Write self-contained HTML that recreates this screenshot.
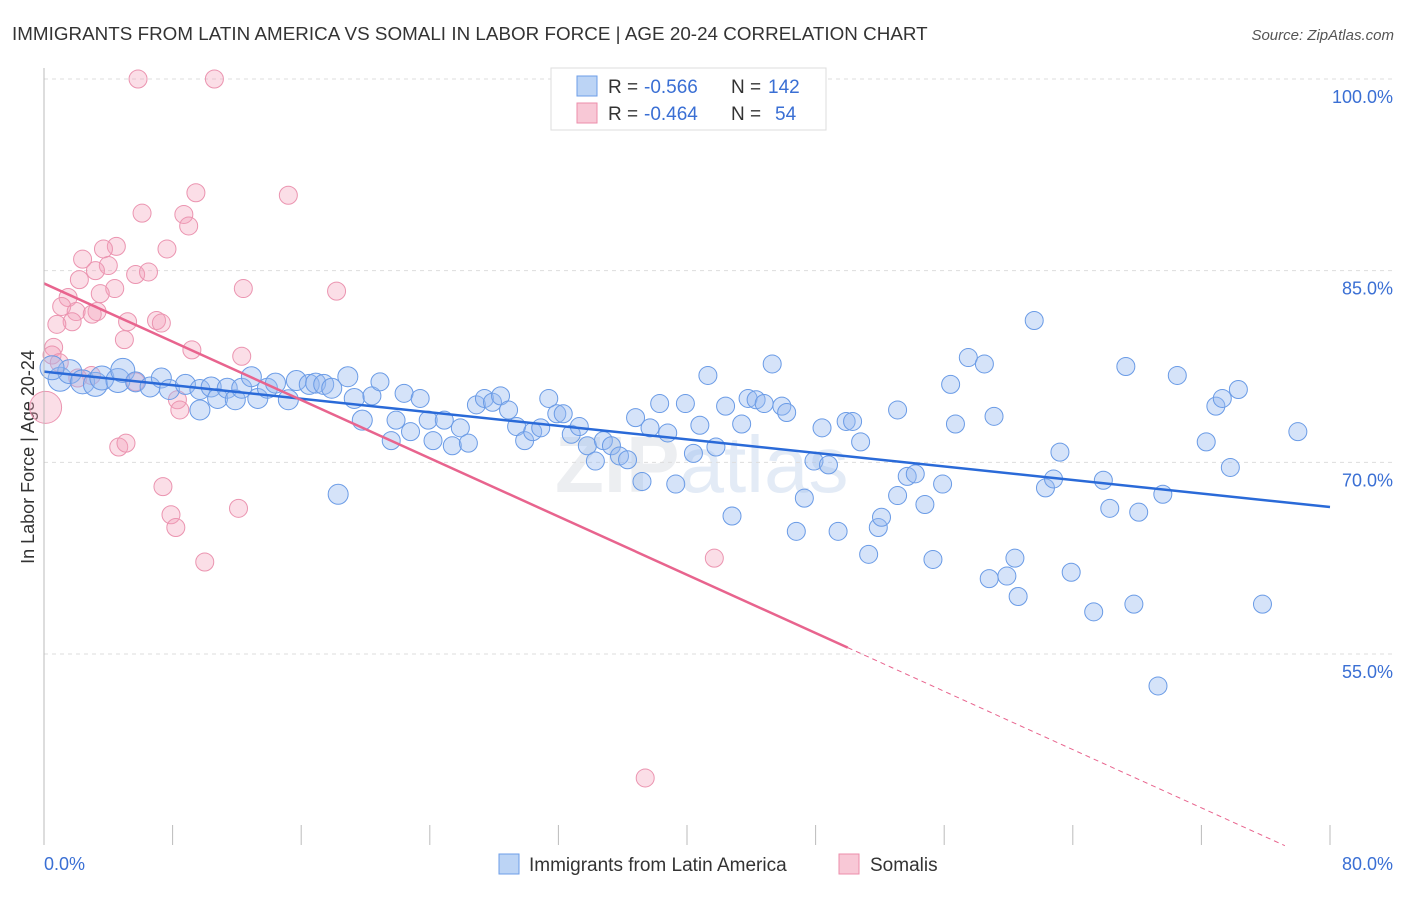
<!DOCTYPE html>
<html><head><meta charset="utf-8"><style>
body{margin:0;background:#fff;font-family:"Liberation Sans",sans-serif}
svg text{font-family:"Liberation Sans",sans-serif}
</style></head><body>
<svg id="c" width="1406" height="892">
<text x="12" y="40" font-size="18.8" fill="#333" letter-spacing="0.35" textLength="916" lengthAdjust="spacing">IMMIGRANTS FROM LATIN AMERICA VS SOMALI IN LABOR FORCE | AGE 20-24 CORRELATION CHART</text>
<text x="1394" y="40" font-size="15" fill="#555" text-anchor="end" font-style="italic">Source: ZipAtlas.com</text>
<text transform="translate(34,457) rotate(-90)" font-size="18" fill="#333" text-anchor="middle">In Labor Force | Age 20-24</text>
<text x="555" y="492" font-size="80" fill="#eceef1" font-weight="bold">ZIP<tspan fill="#e3ebf6" font-weight="normal">atlas</tspan></text>
<g id="grid"></g><g id="pts"></g><g id="lines"></g>
<line x1="44" y1="68" x2="44" y2="845" stroke="#bbb"/>
<g>
<rect x="551" y="68" width="275" height="62" fill="#fff" stroke="#ddd"/>
<rect x="577" y="76" width="20" height="20" fill="#bcd4f5" stroke="#6d9ee8"/>
<rect x="577" y="103" width="20" height="20" fill="#f8c8d6" stroke="#ec8eab"/>
<text x="608" y="93" font-size="19" fill="#333">R =</text>
<text x="644" y="93" font-size="19" fill="#3a6fd4">-0.566</text>
<text x="731" y="93" font-size="19" fill="#333">N =</text>
<text x="768" y="93" font-size="19" fill="#3a6fd4">142</text>
<text x="608" y="120" font-size="19" fill="#333">R =</text>
<text x="644" y="120" font-size="19" fill="#3a6fd4">-0.464</text>
<text x="731" y="120" font-size="19" fill="#333">N =</text>
<text x="775" y="120" font-size="19" fill="#3a6fd4">54</text>
</g>
<g>
<rect x="499" y="854" width="20" height="20" fill="#bcd4f5" stroke="#6d9ee8"/>
<text x="529" y="871" font-size="19" fill="#333">Immigrants from Latin America</text>
<rect x="839" y="854" width="20" height="20" fill="#f8c8d6" stroke="#ec8eab"/>
<text x="870" y="871" font-size="19" fill="#333">Somalis</text>
</g>
</svg>
<script>
const yTicks=[100,85,70,55];
const yTickLabels=["100.0%","85.0%","70.0%","55.0%"];
const xTickLabels=["0.0%","80.0%"];
const blueX=[1.0,1.6,0.5,2.4,3.2,3.6,4.6,4.9,5.7,6.6,7.3,7.8,8.8,9.7,9.7,10.4,10.8,11.4,11.9,12.3,12.9,13.3,13.9,14.4,15.2,15.7,16.5,16.9,17.4,17.9,18.9,19.3,19.8,20.4,20.9,21.6,21.9,22.4,22.8,23.4,23.9,24.2,24.9,25.4,25.9,26.4,26.9,27.4,27.9,28.4,28.9,29.4,29.9,30.4,30.9,31.4,31.9,32.3,32.8,33.3,33.8,34.3,34.8,35.3,35.8,36.3,36.8,37.2,37.7,38.3,38.8,39.3,39.9,40.4,40.8,41.3,41.8,42.4,42.8,43.4,43.8,44.3,44.8,45.3,45.9,46.2,46.8,47.3,47.9,48.4,48.8,49.4,49.9,50.3,50.8,51.3,51.9,52.1,53.1,53.1,53.7,54.2,54.8,55.3,55.9,56.4,56.7,57.5,58.5,58.8,59.1,59.9,60.4,60.6,61.6,62.3,62.8,63.2,63.9,65.3,65.9,66.3,67.3,67.8,68.1,69.3,69.6,70.5,72.3,72.9,73.3,73.8,74.3,75.8,78.0,18.3];
const blueY=[76.5,77.1,77.4,76.3,76.1,76.6,76.4,77.2,76.3,75.9,76.6,75.7,76.1,75.7,74.1,75.9,75.0,75.8,74.9,75.8,76.7,75.0,75.8,76.2,74.9,76.4,76.1,76.2,76.1,75.8,76.7,75.0,73.3,75.2,76.3,71.7,73.3,75.4,72.4,75.0,73.3,71.7,73.3,71.3,72.7,71.5,74.5,75.0,74.7,75.2,74.1,72.8,71.7,72.4,72.7,75.0,73.8,73.8,72.2,72.8,71.3,70.1,71.7,71.3,70.5,70.2,73.5,68.5,72.7,74.6,72.3,68.3,74.6,70.7,72.9,76.8,71.2,74.4,65.8,73.0,75.0,74.9,74.6,77.7,74.4,73.9,64.6,67.2,70.1,72.7,69.8,64.6,73.2,73.2,71.6,62.8,64.9,65.7,67.4,74.1,68.9,69.1,66.7,62.4,68.3,76.1,73.0,78.2,77.7,60.9,73.6,61.1,62.5,59.5,81.1,68.0,68.7,70.8,61.4,58.3,68.6,66.4,77.5,58.9,66.1,52.5,67.5,76.8,71.6,74.4,75.0,69.6,75.7,58.9,72.4,67.5];
const pinkX=[5.85,10.6,9.45,15.2,6.1,8.7,9.0,7.65,4.5,3.7,2.4,4.0,3.2,5.7,6.5,2.2,4.4,3.5,12.4,18.2,1.5,1.1,2.0,3.3,3.0,1.75,0.8,5.2,7.0,7.3,5.0,0.6,0.5,9.2,12.3,2.95,5.7,8.3,8.45,0.1,4.65,5.1,7.4,7.9,8.2,12.1,10.0,41.7,37.4,0.95,2.1];
const pinkY=[100,100,91.1,90.9,89.5,89.4,88.5,86.7,86.9,86.7,85.9,85.4,85.0,84.7,84.9,84.3,83.6,83.2,83.6,83.4,82.9,82.2,81.8,81.8,81.6,81.0,80.8,81.0,81.1,80.9,79.6,79.0,78.4,78.8,78.3,76.8,76.3,74.9,74.1,74.3,71.2,71.5,68.1,65.9,64.9,66.4,62.2,62.5,45.3,77.8,76.6];
const blueTrend=[77.1,66.5];
const pinkTrend=[84.0,55.5,50];
const X=v=>44+v*(1330-44)/80;
const Y=v=>79+(100-v)*(654-79)/45;
const NS="http://www.w3.org/2000/svg";
function mk(tag,attrs,parent){const e=document.createElementNS(NS,tag);for(const k in attrs)e.setAttribute(k,attrs[k]);parent.appendChild(e);return e;}
const grid=document.getElementById('grid');
yTicks.forEach((t,i)=>{
 const l=mk('line',{x1:44,x2:1393,y1:Y(t),y2:Y(t),stroke:'#ddd','stroke-dasharray':'4,4'},grid);
 
 
 const tx=mk('text',{x:1393,y:Y(t)+24,'font-size':18,fill:'#3a6fd4','text-anchor':'end'},grid);
 tx.textContent=yTickLabels[i];
 
 
});
for(let i=0;i<=10;i++){
 const l=mk('line',{x1:X(i*8),x2:X(i*8),y1:825,y2:845,stroke:'#bbb'},grid);
 
 
}
const xl0=mk('text',{x:44,y:870,'font-size':18,fill:'#3a6fd4'},grid);xl0.textContent=xTickLabels[0];


const xl1=mk('text',{x:1393,y:870,'font-size':18,fill:'#3a6fd4','text-anchor':'end'},grid);xl1.textContent=xTickLabels[1];


const pts=document.getElementById('pts');
pinkX.forEach((x,i)=>{
 const r=(x<0.3)?16:9;
 const c=mk('circle',{cx:X(x),cy:Y(pinkY[i]),r:r,fill:'rgba(244,160,186,0.35)',stroke:'#eb94b0','stroke-width':1},pts);
 
 
});
blueX.forEach((x,i)=>{
 const r=x<5?12:(x<20?10:9);
 const c=mk('circle',{cx:X(x),cy:Y(blueY[i]),r:r,fill:'rgba(150,185,240,0.4)',stroke:'#6a9be6','stroke-width':1},pts);
 
 
});
const lines=document.getElementById('lines');
const bl=mk('line',{x1:X(0),y1:Y(blueTrend[0]),x2:X(80),y2:Y(blueTrend[1]),stroke:'#2a6ad8','stroke-width':2.5},lines);


const ps=(pinkTrend[1]-pinkTrend[0])/pinkTrend[2];
const pl=mk('line',{x1:X(0),y1:Y(pinkTrend[0]),x2:X(pinkTrend[2]),y2:Y(pinkTrend[1]),stroke:'#e8648e','stroke-width':2.5},lines);


const xe=(40-pinkTrend[0])/ps;
const pd=mk('line',{x1:X(pinkTrend[2]),y1:Y(pinkTrend[1]),x2:X(xe),y2:Y(40),stroke:'#e8648e','stroke-width':1,'stroke-dasharray':'5,4'},lines);


</script>
</body></html>
